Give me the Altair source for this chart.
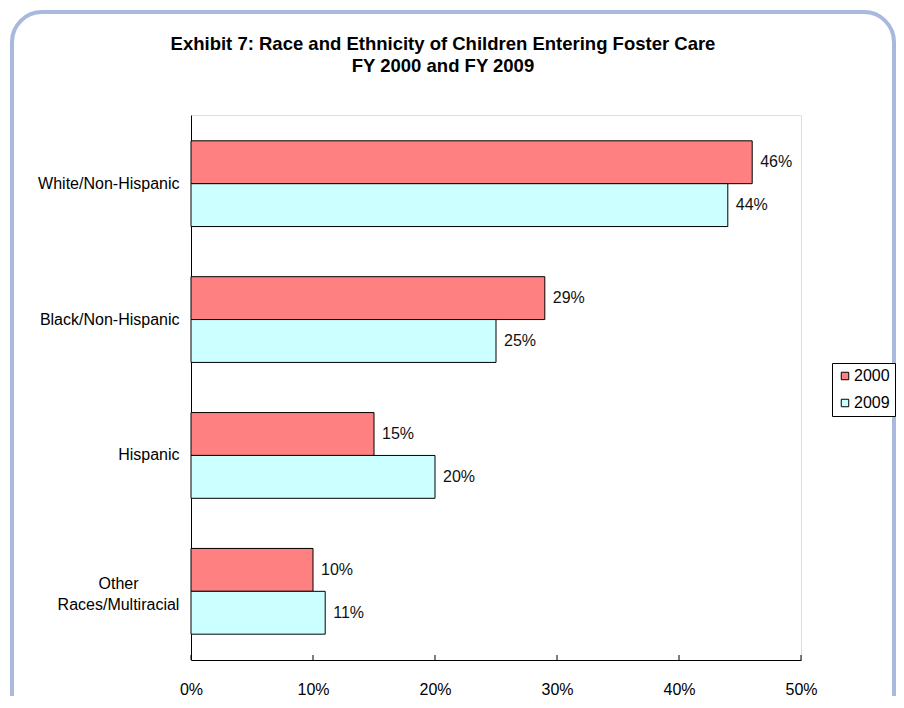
import altair as alt
import pandas as pd

categories = ["White/Non-Hispanic", "Black/Non-Hispanic", "Hispanic", "Other|Races/Multiracial"]
years = ["2000", "2009"]
values_2000 = [0.46, 0.29, 0.15, 0.10]
values_2009 = [0.44, 0.25, 0.20, 0.11]
x_ticks = [0.0, 0.1, 0.2, 0.3, 0.4, 0.5]
colors = ["#FF8080", "#CCFFFF"]

rows = []
for c, a, b in zip(categories, values_2000, values_2009):
    rows.append({"category": c, "year": "2000", "value": a})
    rows.append({"category": c, "year": "2009", "value": b})
df = pd.DataFrame(rows)

FONT = "Liberation Sans"
multi = categories[3]
is_multi = f"datum.value == '{multi}'"

y_enc = alt.Y(
    "category:N",
    sort=categories,
    scale=alt.Scale(paddingInner=0.369, paddingOuter=0.19),
    axis=alt.Axis(
        title=None, ticks=False, labelFontSize=16,
        labelFont=FONT, labelColor="#000", domainColor="#000",
        labelExpr="split(datum.label, '|')",
        labelLineHeight=21,
        labelPadding=alt.condition(is_multi, alt.value(73), alt.value(12)),
        labelAlign=alt.condition(is_multi, alt.value("center"), alt.value("right")),
        labelOffset=alt.condition(is_multi, alt.value(-7), alt.value(0)),
    ),
)
x_enc = alt.X(
    "value:Q",
    scale=alt.Scale(domain=[0, 0.5]),
    axis=alt.Axis(
        title=None, values=x_ticks, format=".0%", grid=False, ticks=False,
        labelPadding=21, labelFontSize=16, labelFont=FONT, labelColor="#000",
        domainColor="#000", labelFlush=False,
    ),
)

bars = alt.Chart(df).mark_bar(stroke="#000", strokeWidth=1).encode(
    y=y_enc,
    x=x_enc,
    yOffset=alt.YOffset("year:N", sort=years),
    color=alt.Color(
        "year:N",
        scale=alt.Scale(domain=years, range=colors),
        legend=alt.Legend(
            title=None, orient="none", legendX=641, legendY=248,
            symbolType="square", symbolSize=56, symbolStrokeColor="#000",
            symbolStrokeWidth=1, labelFontSize=16, labelFont=FONT,
            labelColor="#000", strokeColor="#000", fillColor="#fff",
            padding=5, rowPadding=11, labelOffset=1,
        ),
    ),
)

labels = alt.Chart(df).mark_text(
    align="left", baseline="middle", dx=8, fontSize=16, font=FONT, color="#111"
).encode(
    y=alt.Y("category:N", sort=categories),
    x="value:Q",
    yOffset=alt.YOffset("year:N", sort=years),
    text=alt.Text("value:Q", format=".0%"),
)

tick_df = pd.DataFrame({"t": x_ticks})
ticks = alt.Chart(tick_df).mark_rule(color="#000", strokeWidth=1).encode(
    x="t:Q", y=alt.value(540), y2=alt.value(545)
)

border = alt.Chart(alt.Data(values=[{}])).mark_rect(
    fill=None, stroke="#A9B9DE", strokeWidth=4, cornerRadius=30
).encode(
    x=alt.value(-179), x2=alt.value(703), y=alt.value(-103), y2=alt.value(620)
)

chart = alt.layer(border, bars, labels, ticks).properties(
    width=610,
    height=545,
    autosize=alt.AutoSizeParams(type="none"),
    padding={"left": 183, "top": 107, "right": 95, "bottom": 36},
    title=alt.Title(
        ["Exhibit 7: Race and Ethnicity of Children Entering Foster Care", "FY 2000 and FY 2009"],
        anchor="middle", frame="group", dx=-53, offset=37, dy=102,
        fontSize=18.5, fontWeight="bold", font=FONT, color="#000", lineHeight=22,
    ),
).configure_view(stroke=None).configure(background="#fff")

chart.save("out.html", embed_options={"renderer": "svg", "actions": False})
